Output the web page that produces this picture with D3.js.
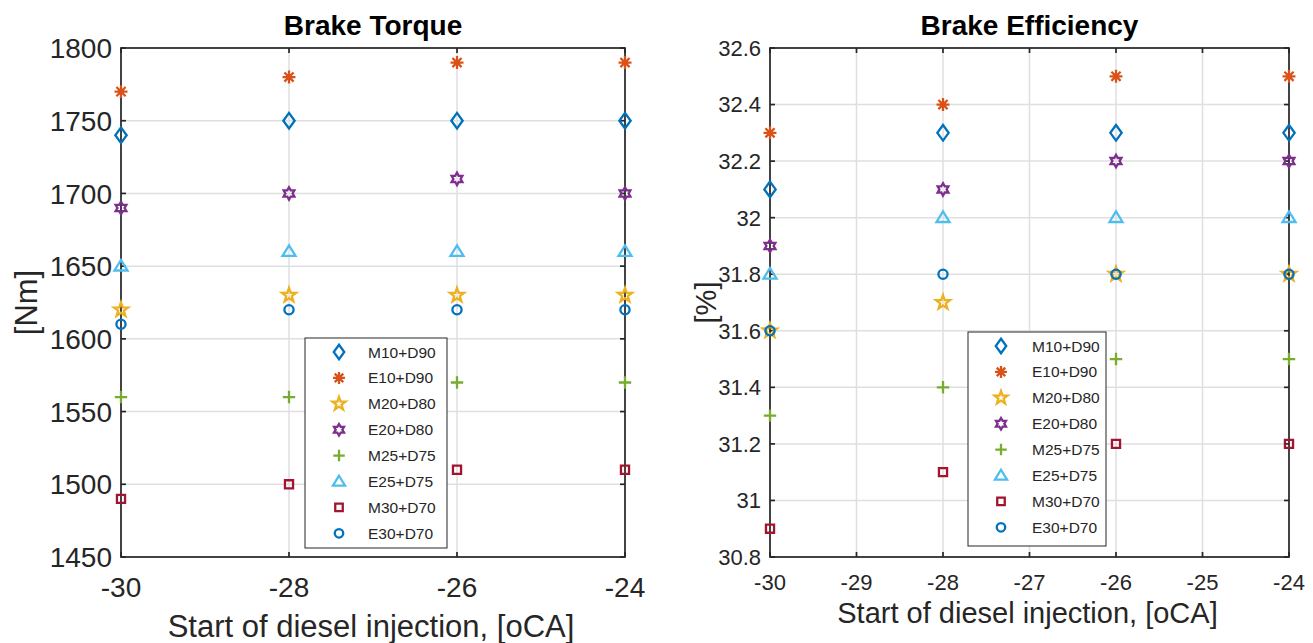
<!DOCTYPE html>
<html>
<head>
<meta charset="utf-8">
<script src="https://cdn.jsdelivr.net/npm/d3@7"></script>
<style>
  body { margin: 0; background: #fff; }
  svg text { font-family: "Liberation Sans", Arial, sans-serif; fill: #262626; }
</style>
</head>
<body>
<div id="chart"></div>
<script>
// start of injection values shared by both panels
const injection = [-30, -28, -26, -24];

const seriesNames = ["M10+D90", "E10+D90", "M20+D80", "E20+D80", "M25+D75", "E25+D75", "M30+D70", "E30+D70"];

const torqueValues = [
    [1740, 1750, 1750, 1750],
    [1770, 1780, 1790, 1790],
    [1620, 1630, 1630, 1630],
    [1690, 1700, 1710, 1700],
    [1560, 1560, 1570, 1570],
    [1650, 1660, 1660, 1660],
    [1490, 1500, 1510, 1510],
    [1610, 1620, 1620, 1620]
];

const efficiencyValues = [
    [32.1, 32.3, 32.3, 32.3],
    [32.3, 32.4, 32.5, 32.5],
    [31.6, 31.7, 31.8, 31.8],
    [31.9, 32.1, 32.2, 32.2],
    [31.3, 31.4, 31.5, 31.5],
    [31.8, 32.0, 32.0, 32.0],
    [30.9, 31.1, 31.2, 31.2],
    [31.6, 31.8, 31.8, 31.8]
];

const torqueTicksY = [1450, 1500, 1550, 1600, 1650, 1700, 1750, 1800];
const torqueTicksX = [-30, -28, -26, -24];
const effTicksY = [30.8, 31, 31.2, 31.4, 31.6, 31.8, 32, 32.2, 32.4, 32.6];
const effTicksX = [-30, -29, -28, -27, -26, -25, -24];

const colors = ["#0072BD", "#D95319", "#EDB120", "#7E2F8E", "#77AC30", "#4DBEEE", "#A2142F", "#0072BD"];
const markers = ["diamond", "asterisk", "pentagram", "hexagram", "plus", "triangle", "square", "circle"];

// marker path generators (MATLAB-like shapes)
function markerPath(type, s) {
    const p = d3.path();
    if (type === "diamond") {
        p.moveTo(0, -s * 0.58); p.lineTo(s * 0.42, 0); p.lineTo(0, s * 0.58); p.lineTo(-s * 0.42, 0); p.closePath();
    } else if (type === "asterisk") {
        const r = s * 0.48;
        for (let i = 0; i < 4; i++) {
            const a = i * Math.PI / 4;
            p.moveTo(-r * Math.cos(a), -r * Math.sin(a));
            p.lineTo(r * Math.cos(a), r * Math.sin(a));
        }
    } else if (type === "plus") {
        const r = s * 0.46;
        p.moveTo(-r, 0); p.lineTo(r, 0); p.moveTo(0, -r); p.lineTo(0, r);
    } else if (type === "pentagram") {
        const R = s * 0.55, r = R * 0.4;
        for (let i = 0; i < 10; i++) {
            const a = -Math.PI / 2 + i * Math.PI / 5;
            const rr = i % 2 ? r : R;
            if (i === 0) p.moveTo(rr * Math.cos(a), rr * Math.sin(a));
            else p.lineTo(rr * Math.cos(a), rr * Math.sin(a));
        }
        p.closePath();
    } else if (type === "hexagram") {
        const R = s * 0.46, r = R * 0.577;
        for (let i = 0; i < 12; i++) {
            const a = -Math.PI / 2 + i * Math.PI / 6;
            const rr = i % 2 ? r : R;
            if (i === 0) p.moveTo(rr * Math.cos(a), rr * Math.sin(a));
            else p.lineTo(rr * Math.cos(a), rr * Math.sin(a));
        }
        p.closePath();
    } else if (type === "triangle") {
        const h = s * 0.46;
        p.moveTo(0, -h); p.lineTo(h * 1.05, h * 0.7); p.lineTo(-h * 1.05, h * 0.7); p.closePath();
    } else if (type === "square") {
        const h = s * 0.3;
        p.rect(-h, -h, 2 * h, 2 * h);
    } else if (type === "circle") {
        p.arc(0, 0, s * 0.34, 0, 2 * Math.PI);
    }
    return p.toString();
}

const width = 1313, height = 643;
const svg = d3.select("#chart").append("svg")
    .attr("width", width)
    .attr("height", height);

function drawPanel(opts) {
    const x = d3.scaleLinear().domain(opts.xDomain).range([opts.left, opts.right]);
    const y = d3.scaleLinear().domain(opts.yDomain).range([opts.bottom, opts.top]);
    const g = svg.append("g");

    // grid
    g.selectAll(".gx").data(opts.xTicks).enter().append("line")
        .attr("x1", d => x(d)).attr("x2", d => x(d))
        .attr("y1", opts.top).attr("y2", opts.bottom)
        .attr("stroke", "#dfdfdf").attr("stroke-width", 1.5);
    g.selectAll(".gy").data(opts.yTicks).enter().append("line")
        .attr("y1", d => y(d)).attr("y2", d => y(d))
        .attr("x1", opts.left).attr("x2", opts.right)
        .attr("stroke", "#dfdfdf").attr("stroke-width", 1.5);

    // box
    g.append("rect")
        .attr("x", opts.left).attr("y", opts.top)
        .attr("width", opts.right - opts.left).attr("height", opts.bottom - opts.top)
        .attr("fill", "none").attr("stroke", "#262626").attr("stroke-width", 1.7);

    // inward ticks
    const tl = 5;
    opts.xTicks.forEach(t => {
        g.append("line").attr("x1", x(t)).attr("x2", x(t)).attr("y1", opts.bottom).attr("y2", opts.bottom - tl)
            .attr("stroke", "#262626").attr("stroke-width", 1.7);
        g.append("line").attr("x1", x(t)).attr("x2", x(t)).attr("y1", opts.top).attr("y2", opts.top + tl)
            .attr("stroke", "#262626").attr("stroke-width", 1.7);
    });
    opts.yTicks.forEach(t => {
        g.append("line").attr("y1", y(t)).attr("y2", y(t)).attr("x1", opts.left).attr("x2", opts.left + tl)
            .attr("stroke", "#262626").attr("stroke-width", 1.7);
        g.append("line").attr("y1", y(t)).attr("y2", y(t)).attr("x1", opts.right).attr("x2", opts.right - tl)
            .attr("stroke", "#262626").attr("stroke-width", 1.7);
    });

    // tick labels
    g.selectAll(".xl").data(opts.xTicks).enter().append("text")
        .attr("x", d => x(d)).attr("y", opts.bottom + opts.xTickOffset)
        .attr("text-anchor", "middle")
        .style("font-size", opts.tickFont + "px")
        .text(d => d);
    g.selectAll(".yl").data(opts.yTicks).enter().append("text")
        .attr("x", opts.left - 9).attr("y", d => y(d))
        .attr("dy", "0.36em")
        .attr("text-anchor", "end")
        .style("font-size", opts.tickFont + "px")
        .text(d => d3.format("")(Math.round(d * 10) / 10));

    // axis labels
    g.append("text")
        .attr("x", (opts.left + opts.right) / 2 - 2).attr("y", opts.bottom + opts.xLabelOffset)
        .attr("text-anchor", "middle")
        .style("font-size", opts.labelFont + "px")
        .text("Start of diesel injection, [oCA]");
    g.append("text")
        .attr("transform", `translate(${opts.yLabelX}, ${(opts.top + opts.bottom) / 2}) rotate(-90)`)
        .attr("text-anchor", "middle")
        .style("font-size", opts.labelFont + "px")
        .text(opts.yLabel);

    // title
    g.append("text")
        .attr("x", (opts.left + opts.right) / 2).attr("y", 35)
        .attr("text-anchor", "middle")
        .style("font-size", "28px")
        .style("font-weight", "bold")
        .style("fill", "#000")
        .text(opts.title);

    // markers
    opts.values.forEach((vals, si) => {
        g.selectAll(null).data(vals).enter().append("path")
            .attr("transform", (d, i) => `translate(${x(injection[i])}, ${y(d)})`)
            .attr("d", markerPath(markers[si], 13.5))
            .attr("fill", "none")
            .attr("stroke", colors[si])
            .attr("stroke-width", 2.3);
    });

    // legend
    const lg = g.append("g").attr("transform", `translate(${opts.legend.x}, ${opts.legend.y})`);
    lg.append("rect")
        .attr("width", opts.legend.w).attr("height", opts.legend.h)
        .attr("fill", "#fff").attr("stroke", "#262626").attr("stroke-width", 1);
    const rows = lg.selectAll(".row").data(seriesNames).enter().append("g")
        .attr("transform", (d, i) => `translate(0, ${14 + i * 25.9})`);
    rows.append("path")
        .attr("transform", `translate(${opts.legend.mx}, 0)`)
        .attr("d", (d, i) => markerPath(markers[i], 12.5))
        .attr("fill", "none")
        .attr("stroke", (d, i) => colors[i])
        .attr("stroke-width", 2.3);
    rows.append("text")
        .attr("x", opts.legend.tx).attr("dy", "0.36em")
        .style("font-size", "15.5px")
        .text(d => d);
}

drawPanel({
    title: "Brake Torque",
    yLabel: "[Nm]",
    values: torqueValues,
    xDomain: [-30, -24], yDomain: [1450, 1800],
    xTicks: torqueTicksX, yTicks: torqueTicksY,
    left: 121, right: 625, top: 48, bottom: 557,
    tickFont: 28, labelFont: 31, xTickOffset: 40, xLabelOffset: 80, yLabelX: 37,
    legend: { x: 305, y: 338, w: 142, h: 210, mx: 34, tx: 63 }
});

drawPanel({
    title: "Brake Efficiency",
    yLabel: "[%]",
    values: efficiencyValues,
    xDomain: [-30, -24], yDomain: [30.8, 32.6],
    xTicks: effTicksX, yTicks: effTicksY,
    left: 770, right: 1289, top: 48, bottom: 557,
    tickFont: 22, labelFont: 29, xTickOffset: 33, xLabelOffset: 66, yLabelX: 716,
    legend: { x: 968, y: 332, w: 138, h: 214, mx: 33, tx: 64 }
});
</script>
</body>
</html>
